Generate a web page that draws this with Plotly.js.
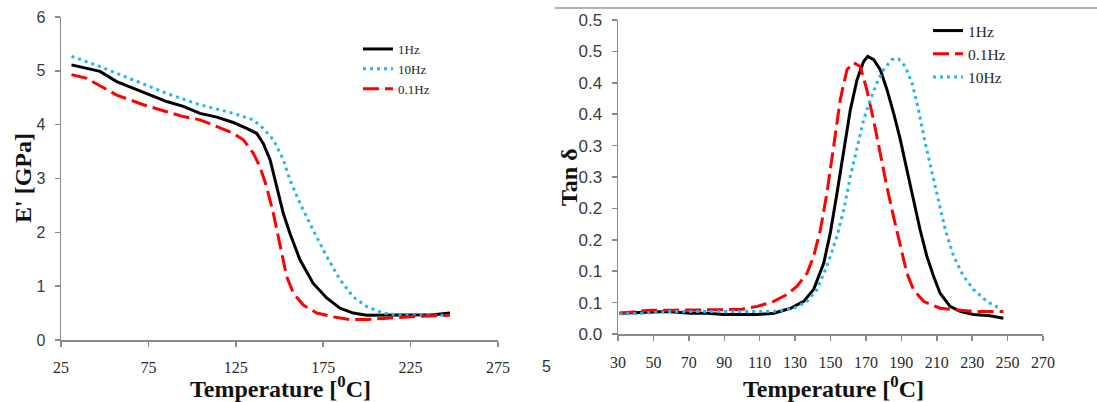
<!DOCTYPE html>
<html>
<head>
<meta charset="utf-8">
<script src="https://cdn.plot.ly/plotly-3.0.1.min.js"></script>
<style>html,body{margin:0;padding:0;background:#fff;}#chart{width:1097px;height:402px;}</style>
</head>
<body>
<div id="chart"></div>
<script>
// ---- Left panel: storage modulus E' [GPa] ----
const eTemp1Hz = [31,39.7,47.3,56.9,66.4,75.9,85.5,95,104.5,114.1,123.6,131.2,136.9,140.7,144.6,148.4,152.2,156,161.7,169.3,177,184.6,192.2,199.9,209.4,219,238,247.5];
const eVal1Hz  = [5.11,5.05,4.99,4.80,4.68,4.55,4.43,4.34,4.21,4.14,4.04,3.93,3.84,3.65,3.35,2.85,2.35,1.98,1.49,1.05,0.78,0.59,0.50,0.46,0.46,0.46,0.47,0.50];

const eTemp10Hz = [31,47.3,66.4,85.5,104.5,123.6,135,140.7,146.5,152.2,156,161.7,169.3,177,184.6,192.2,199.9,209.4,219,238,245.6];
const eVal10Hz  = [5.27,5.08,4.83,4.58,4.37,4.21,4.09,3.93,3.72,3.35,2.97,2.54,2.04,1.55,1.12,0.80,0.62,0.50,0.46,0.46,0.46];

const eTemp01Hz = [31,39.7,56.9,72.1,85.5,95,104.5,114.1,123.6,129.3,135,138.8,142.6,146.5,150.3,154.1,157.9,163.6,171.3,180.8,190.3,199.9,209.4,228.5,247.5];
const eVal01Hz  = [4.93,4.86,4.55,4.37,4.24,4.15,4.09,3.96,3.84,3.72,3.47,3.22,2.85,2.35,1.73,1.18,0.87,0.65,0.50,0.43,0.38,0.38,0.40,0.44,0.46];

// ---- Right panel: Tan delta ----
const tTemp1Hz = [30.7,48.6,58,71,80.4,89.8,108.6,118,127.4,134.9,140.5,146.2,149.9,153.7,157.5,161.2,165,168.7,171,174.4,178.1,181.9,185.6,189.4,193.1,196.9,200.6,204.4,208.2,211.9,217.5,223.2,230.7,240.1,247.6];
const tVal1Hz  = [0.033,0.0345,0.036,0.033,0.033,0.031,0.031,0.033,0.041,0.052,0.071,0.113,0.161,0.225,0.294,0.357,0.405,0.434,0.442,0.437,0.421,0.389,0.352,0.310,0.262,0.214,0.166,0.124,0.092,0.065,0.044,0.036,0.031,0.029,0.025];

const tTemp01Hz = [30.7,48.6,61.7,80.4,99.2,108.6,118,125.5,131.1,136.8,140.5,144.3,148,151.8,155.5,159.3,163,166.8,170.5,174.3,178,181.8,185.6,189.3,193.1,196.8,202.5,211.9,221.3,230.7,247.6];
const tVal01Hz  = [0.033,0.038,0.038,0.038,0.039,0.044,0.052,0.063,0.076,0.097,0.124,0.166,0.225,0.299,0.373,0.421,0.432,0.426,0.389,0.341,0.288,0.235,0.187,0.140,0.097,0.071,0.052,0.041,0.038,0.036,0.036];

const tTemp10Hz = [30.7,42.9,61.7,80.4,99.2,118,129.3,136.8,142.4,148,153.7,157.5,161.2,165,168.7,172.5,176.2,180,184.7,188.5,192.2,196,199.7,203.5,207.3,211,214.8,219.5,225.1,230.7,238.2,246.7];
const tVal10Hz  = [0.032,0.033,0.036,0.036,0.035,0.036,0.041,0.052,0.071,0.108,0.156,0.198,0.251,0.299,0.341,0.373,0.400,0.421,0.437,0.438,0.426,0.400,0.357,0.304,0.256,0.209,0.166,0.124,0.092,0.071,0.052,0.039];

// ---- Tick labels ----
const leftXTicks = [25,75,125,175,225,275];
const leftYTicks = [0,1,2,3,4,5,6];
const rightXTicks = [30,50,70,90,110,130,150,170,190,210,230,250,270];
const rightYTicks = [0,0.05,0.1,0.15,0.2,0.25,0.3,0.35,0.4,0.45,0.5];
const rightYTickText = ['0.0','0.1','0.1','0.2','0.2','0.3','0.3','0.4','0.4','0.5','0.5'];

const W = 1097, H = 402;
const px = x => x / W;
const py = y => 1 - y / H;

const BLACK = '#000000', BLUE = '#22b5ef', RED = '#ff0000';
const serif = 'Liberation Serif, Times New Roman, serif';
const sans = 'Liberation Sans, Arial, sans-serif';

const traces = [
  {x: eTemp1Hz, y: eVal1Hz, name: '1Hz', mode: 'lines', line: {color: BLACK, width: 3}, xaxis: 'x', yaxis: 'y', legend: 'legend'},
  {x: eTemp10Hz, y: eVal10Hz, name: '10Hz', mode: 'lines', line: {color: BLUE, width: 3, dash: '3px,4px'}, xaxis: 'x', yaxis: 'y', legend: 'legend'},
  {x: eTemp01Hz, y: eVal01Hz, name: '0.1Hz', mode: 'lines', line: {color: RED, width: 3, dash: '16px,6px'}, xaxis: 'x', yaxis: 'y', legend: 'legend'},
  {x: tTemp1Hz, y: tVal1Hz, name: '1Hz', mode: 'lines', line: {color: BLACK, width: 3}, xaxis: 'x2', yaxis: 'y2', legend: 'legend2'},
  {x: tTemp01Hz, y: tVal01Hz, name: '0.1Hz', mode: 'lines', line: {color: RED, width: 3, dash: '16px,6px'}, xaxis: 'x2', yaxis: 'y2', legend: 'legend2'},
  {x: tTemp10Hz, y: tVal10Hz, name: '10Hz', mode: 'lines', line: {color: BLUE, width: 3, dash: '3px,4px'}, xaxis: 'x2', yaxis: 'y2', legend: 'legend2'}
];

const axisCommon = {
  showgrid: false, zeroline: false, showline: true, linecolor: '#8a8a8a', linewidth: 1.5,
  ticks: 'outside', ticklen: 5, tickcolor: '#8a8a8a', tickwidth: 1.5, fixedrange: true
};

const layout = {
  width: W, height: H,
  margin: {l: 0, r: 0, t: 0, b: 0},
  paper_bgcolor: '#ffffff', plot_bgcolor: '#ffffff',
  showlegend: true,
  xaxis: Object.assign({}, axisCommon, {domain: [px(61), px(498)], range: [25, 275], tickvals: leftXTicks, anchor: 'y', ticklabelstandoff: 7,
    tickfont: {family: serif, size: 16, color: '#2a2a2a'}}),
  yaxis: Object.assign({}, axisCommon, {domain: [py(340), py(17)], range: [0, 6], tickvals: leftYTicks, anchor: 'x', ticklabelstandoff: 6,
    tickfont: {family: sans, size: 16, color: '#3a3a3a'}}),
  xaxis2: Object.assign({}, axisCommon, {domain: [px(618), px(1043)], range: [30, 270], tickvals: rightXTicks, anchor: 'y2', ticklabelstandoff: 8,
    tickfont: {family: serif, size: 16, color: '#2a2a2a'}}),
  yaxis2: Object.assign({}, axisCommon, {domain: [py(334), py(20)], range: [0, 0.5], tickvals: rightYTicks, ticktext: rightYTickText, anchor: 'x2', ticklabelstandoff: 6,
    tickfont: {family: sans, size: 17, color: '#3a3a3a'}}),
  legend: {x: px(358), y: py(34), xanchor: 'left', yanchor: 'top', bgcolor: 'rgba(0,0,0,0)', borderwidth: 0,
           font: {family: serif, size: 13, color: '#262626'}, tracegroupgap: 0},
  legend2: {x: px(928), y: py(14), xanchor: 'left', yanchor: 'top', bgcolor: 'rgba(0,0,0,0)', borderwidth: 0,
            font: {family: serif, size: 15.5, color: '#262626'}, tracegroupgap: 0},
  annotations: [
    {text: '<b>Temperature [<sup>0</sup>C]</b>', xref: 'paper', yref: 'paper', x: px(280), y: py(387), xanchor: 'center', yanchor: 'middle', showarrow: false,
     font: {family: serif, size: 24, color: '#111'}},
    {text: '<b>Temperature [<sup>0</sup>C]</b>', xref: 'paper', yref: 'paper', x: px(833), y: py(387), xanchor: 'center', yanchor: 'middle', showarrow: false,
     font: {family: serif, size: 24, color: '#111'}},
    {text: "<b>E' [GPa]</b>", xref: 'paper', yref: 'paper', x: px(23), y: py(178), xanchor: 'center', yanchor: 'middle', textangle: -90, showarrow: false,
     font: {family: serif, size: 24, color: '#111'}},
    {text: '<b>Tan δ</b>', xref: 'paper', yref: 'paper', x: px(569), y: py(177), xanchor: 'center', yanchor: 'middle', textangle: -90, showarrow: false,
     font: {family: serif, size: 24, color: '#111'}},
    {text: '5', xref: 'paper', yref: 'paper', x: px(546), y: py(366), xanchor: 'center', yanchor: 'middle', showarrow: false,
     font: {family: sans, size: 16, color: '#333'}}
  ],
  shapes: [
    {type: 'line', xref: 'paper', yref: 'paper', x0: px(555), x1: 1, y0: py(8), y1: py(8), line: {color: '#9a9a9a', width: 1.5}}
  ]
};

Plotly.newPlot('chart', traces, layout, {displayModeBar: false, staticPlot: true});
</script>
</body>
</html>
